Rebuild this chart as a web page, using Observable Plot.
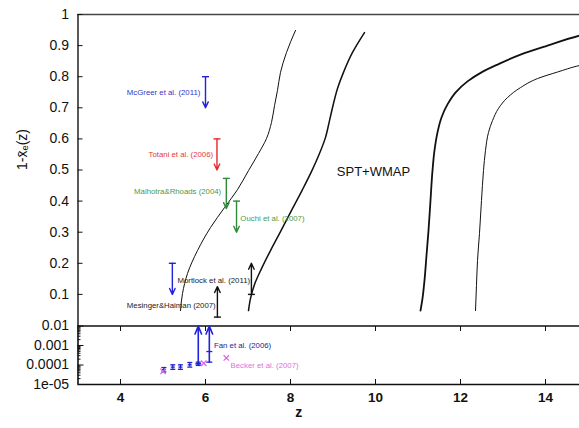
<!DOCTYPE html>
<html><head><meta charset="utf-8">
<script src="https://cdn.jsdelivr.net/npm/d3@7"></script>
<script src="https://cdn.jsdelivr.net/npm/@observablehq/plot@0.6"></script>
<style>
html,body{margin:0;padding:0;background:#fff;overflow:hidden;width:579px;height:428px}
#chart svg{display:block}
</style></head><body><div id="chart"></div>
<script>
// ---- ticks ----
const xTicks = [4, 6, 8, 10, 12, 14];
const topYTicks = [0.1, 0.2, 0.3, 0.4, 0.5, 0.6, 0.7, 0.8, 0.9, 1];
const topYTickLabels = ["0.1","0.2","0.3","0.4","0.5","0.6","0.7","0.8","0.9","1"];
const bottomYTicks = [1e-5, 1e-4, 1e-3, 1e-2];
const bottomYTickLabels = ["1e-05", "0.0001", "0.001", "0.01"];
const bottomYMinor = [2e-5,3e-5,4e-5,5e-5,6e-5,7e-5,8e-5,9e-5,2e-4,3e-4,4e-4,5e-4,6e-4,7e-4,8e-4,9e-4,2e-3,3e-3,4e-3,5e-3,6e-3,7e-3,8e-3,9e-3];

// ---- SPT+WMAP curves (z, 1 - x_e) ----
const curveA_z = [5.412, 5.459, 5.576, 5.812, 6.118, 6.447, 6.753, 7.012, 7.247, 7.435, 7.553, 7.624, 7.694, 7.765, 7.906, 8.118];
const curveA_v = [0.048, 0.103, 0.167, 0.241, 0.315, 0.379, 0.437, 0.498, 0.553, 0.601, 0.653, 0.707, 0.756, 0.814, 0.878, 0.949];
const curveB_z = [7.012, 7.059, 7.153, 7.318, 7.529, 7.765, 8.024, 8.282, 8.518, 8.682, 8.824, 8.918, 9.012, 9.106, 9.247, 9.459, 9.741];
const curveB_v = [0.048, 0.087, 0.132, 0.183, 0.241, 0.302, 0.370, 0.437, 0.502, 0.553, 0.605, 0.659, 0.714, 0.762, 0.814, 0.878, 0.942];
const curveC_z = [11.059, 11.106, 11.153, 11.2, 11.247, 11.294, 11.341, 11.388, 11.459, 11.553, 11.694, 11.882, 12.165, 12.494, 12.871, 13.412, 14.047, 14.8, 15.0];
const curveC_v = [0.048, 0.087, 0.145, 0.225, 0.305, 0.402, 0.498, 0.563, 0.621, 0.669, 0.711, 0.749, 0.785, 0.814, 0.839, 0.871, 0.900, 0.932, 0.939];
const curveD_z = [12.353, 12.376, 12.4, 12.447, 12.494, 12.541, 12.588, 12.659, 12.753, 12.894, 13.106, 13.412, 13.812, 14.282, 14.8, 15.0];
const curveD_v = [0.048, 0.129, 0.209, 0.296, 0.402, 0.498, 0.563, 0.621, 0.659, 0.698, 0.733, 0.765, 0.794, 0.815, 0.836, 0.842];

// ---- limits in top panel ----
const limitZ     = [6.0,  6.27, 6.49,  6.73, 5.22, 6.28,  7.08];
const limitFrom  = [0.80, 0.60, 0.473, 0.40, 0.20, 0.027, 0.10];
const limitTo    = [0.70, 0.50, 0.376, 0.30, 0.10, 0.125, 0.20];
const limitColor = ["#2222dd", "#e6262e", "#2f8a3a", "#2f8a3a", "#2222dd", "#111111", "#111111"];

const labelText  = ["McGreer et al. (2011)", "Totani et al. (2006)", "Malhotra&Rhoads (2004)", "Ouchi et al. (2007)", "Mortlock et al. (2011)", "Mesinger&Haiman (2007)"];
const labelZ     = [5.88, 6.18, 6.37, 6.82, 5.34, 6.24];
const labelV     = [0.749, 0.55, 0.431, 0.344, 0.145, 0.064];
const labelAnchor= ["end", "end", "end", "start", "start", "end"];
const labelColor = ["#3535c8", "#e03a40", "#4a9a4a", "#4a9a4a", "#222222", "#222222"];

// ---- bottom panel: Fan et al. (2006), Becker et al. (2007) ----
const fanZ  = [5.02, 5.23, 5.41, 5.63, 5.83];
const fanV  = [5.7e-5, 7.8e-5, 7.8e-5, 1.02e-4, 1.15e-4];
const fanLo = [4.4e-5, 6.0e-5, 6.0e-5, 7.8e-5, 9.5e-5];
const fanHi = [7.4e-5, 1.02e-4, 1.02e-4, 1.34e-4, 1.40e-4];
const fanLimZ    = [5.83, 6.09];
const fanLimFrom = [1.15e-4, 1.4e-4];
const fanLimTo   = [0.0099, 0.0099];
const fanLimMid  = [4.9e-4];
const fanLimMidZ = [6.09];
const beckerZ = [5.0, 5.96, 6.49];
const beckerV = [4.7e-5, 1.23e-4, 2.3e-4];

const font = "'Liberation Sans', Arial, Helvetica, sans-serif";
const X = {domain: [3, 15], range: [77.5, 587.5], label: null};
const cap = (w) => ({draw(ctx) { ctx.moveTo(-w, 0); ctx.lineTo(w, 0); }});
const idx = (a) => d3.range(a.length);

const curveLine = (zs, vs, sw) => Plot.line(idx(zs), {x: i => zs[i], y: i => vs[i], curve: "monotone-y", stroke: "#111", strokeWidth: sw});
const labelMark = (anchor) => Plot.text(idx(labelText).filter(i => labelAnchor[i] === anchor), {
  x: i => labelZ[i], y: i => labelV[i], text: i => labelText[i],
  textAnchor: anchor, fill: i => labelColor[i], fontSize: 7.8});

const topPlot = Plot.plot({
  width: 579, height: 325, marginTop: 14, marginBottom: 0, marginLeft: 77.5, marginRight: 0,
  style: {fontFamily: font, fontSize: "14px", color: "#111", background: "#fff"},
  x: {...X, axis: null},
  y: {domain: [0, 1], range: [325, 14], label: null},
  marks: [
    Plot.ruleY([1], {stroke: "#444", strokeWidth: 1.5}),
    Plot.ruleX([3], {stroke: "#222", strokeWidth: 1.5}),
    Plot.axisY(topYTicks, {anchor: "left", tickSize: -5, tickPadding: 14, fontSize: 14,
      tickFormat: d => topYTickLabels[topYTicks.indexOf(d)], label: null}),
    Plot.text(["1-x\u0304\u2091(z)"], {frameAnchor: "left", dx: -55, rotate: -90, fontSize: 14}),
    curveLine(curveA_z, curveA_v, 1),
    curveLine(curveB_z, curveB_v, 1.5),
    curveLine(curveC_z, curveC_v, 1.8),
    curveLine(curveD_z, curveD_v, 1),
    Plot.arrow(idx(limitZ), {x1: i => limitZ[i], x2: i => limitZ[i], y1: i => limitFrom[i], y2: i => limitTo[i],
      stroke: i => limitColor[i], strokeWidth: 1.4, headLength: 7, headAngle: 50}),
    Plot.dot(idx(limitZ), {x: i => limitZ[i], y: i => limitFrom[i], symbol: cap(3.5), fill: "none",
      stroke: i => limitColor[i], strokeWidth: 1.4}),
    labelMark("start"),
    labelMark("end"),
    Plot.text(["SPT+WMAP"], {x: 9.09, y: 0.495, textAnchor: "start", fontSize: 13, fill: "#111"})
  ]
});

const bottomPlot = Plot.plot({
  width: 579, height: 103, marginTop: 0, marginBottom: 44, marginLeft: 77.5, marginRight: 0,
  style: {fontFamily: font, fontSize: "14px", color: "#111", background: "#fff", overflow: "visible"},
  x: X,
  y: {type: "log", domain: [1e-5, 1e-2], range: [59, 0.5], label: null},
  marks: [
    Plot.ruleY([1e-2, 1e-5], {stroke: "#111", strokeWidth: 1.6}),
    Plot.ruleX([3], {stroke: "#111", strokeWidth: 1.6}),
    Plot.axisY(bottomYTicks, {anchor: "left", tickSize: -6, tickPadding: 15, fontSize: 14,
      tickFormat: d => bottomYTickLabels[bottomYTicks.indexOf(d)], label: null}),
    Plot.axisY(bottomYMinor, {anchor: "left", tickSize: -3, tickFormat: () => "", label: null}),
    Plot.axisX(xTicks, {anchor: "bottom", tickSize: -5, tickPadding: 12.5, fontSize: 13.5, fontWeight: "bold",
      tickFormat: d => String(d), label: null}),
    Plot.axisX(xTicks, {anchor: "top", tickSize: -5, tickFormat: () => "", label: null}),
    Plot.text(["z"], {frameAnchor: "bottom", dx: -30, dy: 32, fontSize: 14, fontWeight: "bold"}),
    // Fan et al. error bars
    Plot.ruleX(idx(fanZ), {x: i => fanZ[i], y1: i => fanLo[i], y2: i => fanHi[i], stroke: "#2222cc", strokeWidth: 1.3}),
    Plot.dot(idx(fanZ), {x: i => fanZ[i], y: i => fanLo[i], symbol: cap(2.5), fill: "none", stroke: "#2222cc", strokeWidth: 1.3}),
    Plot.dot(idx(fanZ), {x: i => fanZ[i], y: i => fanHi[i], symbol: cap(2.5), fill: "none", stroke: "#2222cc", strokeWidth: 1.3}),
    Plot.dot(idx(fanZ), {x: i => fanZ[i], y: i => fanV[i], symbol: cap(2), fill: "none", stroke: "#2222cc", strokeWidth: 1.3}),
    // Fan et al. lower limits
    Plot.arrow(idx(fanLimZ), {x1: i => fanLimZ[i], x2: i => fanLimZ[i], y1: i => fanLimFrom[i], y2: i => fanLimTo[i],
      stroke: "#2222dd", strokeWidth: 1.6, headLength: 8, headAngle: 45}),
    Plot.dot(idx(fanLimZ), {x: i => fanLimZ[i], y: i => fanLimFrom[i], symbol: cap(3), fill: "none", stroke: "#2222dd", strokeWidth: 1.3}),
    Plot.dot(idx(fanLimMidZ), {x: i => fanLimMidZ[i], y: i => fanLimMid[i], symbol: cap(3), fill: "none", stroke: "#2222dd", strokeWidth: 1.3}),
    // Becker et al.
    Plot.dot(idx(beckerZ), {x: i => beckerZ[i], y: i => beckerV[i], symbol: "times", r: 2.6, stroke: "#dd66dd", strokeWidth: 1.2}),
    Plot.text(["Fan et al. (2006)"], {x: 6.2, y: 1e-3, textAnchor: "start", fontSize: 7.8, fill: "#22229a"}),
    Plot.text(["Becker et al. (2007)"], {x: 6.59, y: 1.0e-4, textAnchor: "start", fontSize: 7.8, fill: "#dd70dd"})
  ]
});

const root = document.getElementById("chart");
root.appendChild(topPlot);
root.appendChild(bottomPlot);
</script>
</body></html>
